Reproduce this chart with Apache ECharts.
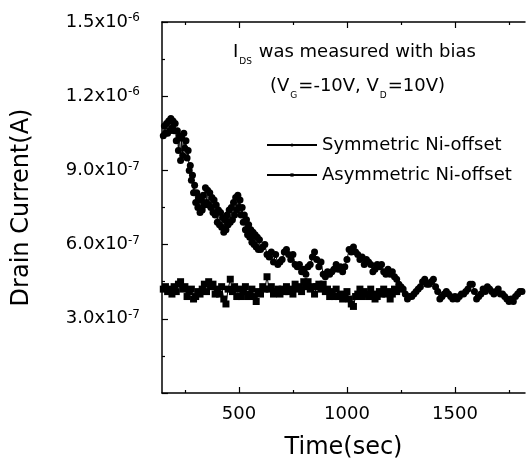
<!DOCTYPE html>
<html>
<head>
<meta charset="utf-8">
<script src="https://cdn.jsdelivr.net/npm/echarts@6/dist/echarts.min.js"></script>
<style>
  html, body { margin: 0; padding: 0; background: #fff; }
  #chart { width: 530px; height: 461px; }
</style>
</head>
<body>
<div id="chart"></div>
<script>
// drain current vs time, values in units of 1e-7 A
const symTime = [
  150, 155, 160, 165, 170, 175, 180, 185, 190, 195, 200, 205, 210, 215, 220, 225, 230, 235, 240, 245,
  250, 255, 260, 265, 270, 275, 280, 285, 290, 295, 300, 305, 310, 315, 320, 325, 330, 335, 340, 345,
  350, 355, 360, 365, 370, 375, 380, 385, 390, 395, 400, 405, 410, 415, 420, 425, 430, 435, 440, 445,
  450, 455, 460, 465, 470, 475, 480, 485, 490, 495, 500, 505, 510, 515, 520, 525, 530, 535, 540, 545,
  550, 555, 560, 565, 570, 575, 580, 585, 590, 595, 600, 610, 620, 630, 640, 650, 660, 670, 680, 690,
  700, 710, 720, 730, 740, 750, 760, 770, 780, 790, 800, 810, 820, 830, 840, 850, 860, 870, 880, 890,
  900, 910, 920, 930, 940, 950, 960, 970, 980, 990, 1000, 1010, 1020, 1030, 1040, 1050, 1060, 1070, 1080, 1090,
  1100, 1110, 1120, 1130, 1140, 1150, 1160, 1170, 1180, 1190, 1200, 1210, 1220, 1230, 1240, 1250, 1260, 1270, 1280, 1290,
  1300, 1310, 1320, 1330, 1340, 1350, 1360, 1370, 1380, 1390, 1400, 1410, 1420, 1430, 1440, 1450, 1460, 1470, 1480, 1490,
  1500, 1510, 1520, 1530, 1540, 1550, 1560, 1570, 1580, 1590, 1600, 1610, 1620, 1630, 1640, 1650, 1660, 1670, 1680, 1690,
  1700, 1710, 1720, 1730, 1740, 1750, 1760, 1770, 1780, 1790, 1800, 1810
];
const symCurrent = [
  10.4, 10.8, 10.5, 10.9, 10.5, 11.0, 10.6, 11.1, 10.7, 11.0, 10.6, 10.9, 10.2, 10.6, 9.8, 10.4, 9.4, 10.3, 9.6, 10.5,
  9.9, 10.2, 9.5, 9.8, 9.0, 9.2, 8.6, 8.8, 8.1, 8.4, 7.7, 8.1, 7.5, 7.9, 7.3, 7.8, 7.4, 8.0, 7.6, 8.3,
  7.7, 8.2, 7.6, 8.1, 7.5, 7.9, 7.3, 7.8, 7.2, 7.6, 6.9, 7.4, 6.8, 7.3, 6.7, 7.1, 6.5, 7.0, 6.6, 7.2,
  6.8, 7.4, 6.9, 7.5, 7.0, 7.7, 7.2, 7.9, 7.4, 8.0, 7.5, 7.8, 7.2, 7.5, 6.9, 7.2, 6.6, 7.0, 6.4, 6.8,
  6.3, 6.6, 6.1, 6.5, 6.0, 6.4, 5.9, 6.3, 5.8, 6.2, 5.8, 5.9, 6.0, 5.6, 5.5, 5.7, 5.3, 5.6, 5.2, 5.3,
  5.4, 5.7, 5.8, 5.6, 5.4, 5.6, 5.2, 5.1, 5.2, 4.9, 5.0, 4.8, 5.1, 5.2, 5.5, 5.7, 5.4, 5.1, 5.3, 4.8,
  4.7, 4.9, 4.8, 4.9, 5.0, 5.2, 5.0, 5.1, 4.9, 5.1, 5.4, 5.8, 5.7, 5.9, 5.7, 5.6, 5.4, 5.5, 5.2, 5.4,
  5.3, 5.2, 4.9, 5.0, 5.2, 5.1, 5.2, 4.9, 4.8, 5.0, 4.8, 4.9, 4.7, 4.6, 4.4, 4.3, 4.2, 4.0, 3.8, 3.9,
  3.9, 4.0, 4.1, 4.2, 4.3, 4.5, 4.6, 4.4, 4.4, 4.5, 4.6, 4.3, 4.1, 3.8, 3.9, 4.0, 4.1, 4.0, 3.9, 3.8,
  3.9, 3.8, 3.9, 4.0, 4.0, 4.1, 4.2, 4.4, 4.4, 4.1, 3.8, 3.9, 4.0, 4.2, 4.1, 4.3, 4.2, 4.1, 4.0, 4.1,
  4.2, 4.0, 4.0, 3.9, 3.8, 3.7, 3.8, 3.7, 3.9, 4.0, 4.1, 4.1
];
const asymTime = [
  150, 160, 170, 180, 190, 200, 210, 220, 230, 240, 250, 260, 270, 280, 290, 300, 310, 320, 330, 340,
  350, 360, 370, 380, 390, 400, 410, 420, 430, 440, 450, 460, 470, 480, 490, 500, 510, 520, 530, 540,
  550, 560, 570, 580, 590, 600, 610, 620, 630, 640, 650, 660, 670, 680, 690, 700, 710, 720, 730, 740,
  750, 760, 770, 780, 790, 800, 810, 820, 830, 840, 850, 860, 870, 880, 890, 900, 910, 920, 930, 940,
  950, 960, 970, 980, 990, 1000, 1010, 1020, 1030, 1040, 1050, 1060, 1070, 1080, 1090, 1100, 1110, 1120, 1130, 1140,
  1150, 1160, 1170, 1180, 1190, 1200, 1210, 1220, 1230, 1240
];
const asymCurrent = [
  4.2, 4.3, 4.1, 4.2, 4.0, 4.3, 4.1, 4.4, 4.5, 4.2, 4.3, 3.9, 4.1, 4.2, 3.8, 3.9, 4.1, 4.0, 4.2, 4.4,
  4.1, 4.5, 4.3, 4.4, 4.0, 4.2, 4.0, 4.3, 3.8, 3.6, 4.2, 4.6, 4.1, 4.3, 3.9, 4.2, 3.9, 4.1, 4.3, 3.9,
  4.0, 4.2, 3.9, 3.7, 4.1, 4.0, 4.3, 4.2, 4.7, 4.2, 4.3, 4.0, 4.1, 4.2, 4.0, 4.2, 4.1, 4.3, 4.1, 4.2,
  4.0, 4.4, 4.2, 4.3, 4.1, 4.5, 4.3, 4.5, 4.2, 4.3, 4.0, 4.3, 4.4, 4.2, 4.4, 4.1, 4.2, 3.9, 4.1, 3.9,
  4.2, 3.9, 4.0, 3.8, 3.9, 4.1, 3.8, 3.6, 3.5, 3.9, 4.0, 4.2, 3.9, 4.1, 4.0, 3.9, 4.2, 4.0, 3.8, 3.9,
  4.1, 4.0, 4.2, 4.0, 4.1, 3.8, 4.0, 4.2, 4.1, 4.2
];
const xMajorTicks = [500, 1000, 1500];
const xMinorTicks = [250, 750, 1250, 1750];
const seriesNames = ['Symmetric Ni-offset', 'Asymmetric Ni-offset'];

const font = 'DejaVu Sans';

function pairs(xs, ys) {
  return xs.map((x, i) => [x, ys[i]]);
}

function yLabel(v) {
  if (v === 0) {
    return '';
  }
  if (v >= 10) {
    return `{b|${(v / 10).toFixed(1)}x10}{s|-6}`;
  }
  return `{b|${v.toFixed(1)}x10}{s|-7}`;
}

function xAxisDef(position, ticks, len, showLine, showLabel) {
  return {
    type: 'value',
    position: position,
    min: 144,
    max: 1824,
    axisLine: {show: showLine, onZero: false, lineStyle: {color: '#000', width: 1.5}},
    axisTick: {show: true, inside: true, length: len, customValues: ticks, lineStyle: {color: '#000', width: 1.2}},
    axisLabel: {
      show: showLabel,
      customValues: xMajorTicks,
      formatter: v => String(v),
      margin: 12,
      color: '#000',
      fontFamily: font,
      fontSize: 18
    },
    splitLine: {show: false}
  };
}

const chart = echarts.init(document.getElementById('chart'));

const xMain = xAxisDef('bottom', xMajorTicks, 6, true, true);
xMain.name = 'Time(sec)';
xMain.nameLocation = 'middle';
xMain.nameGap = 43;
xMain.nameTextStyle = {color: '#000', fontFamily: font, fontSize: 24};

chart.setOption({
  backgroundColor: '#fff',
  animation: false,
  grid: {left: 162, right: 5, top: 22, bottom: 68, outerBoundsMode: 'none'},
  legend: {
    data: seriesNames,
    orient: 'vertical',
    left: 266,
    top: 136,
    padding: 0,
    itemWidth: 50,
    itemHeight: 4,
    itemGap: 12,
    textStyle: {color: '#000', fontFamily: font, fontSize: 18}
  },
  xAxis: [
    xMain,
    xAxisDef('bottom', xMinorTicks, 3, false, false),
    xAxisDef('top', xMajorTicks, 6, true, false),
    xAxisDef('top', xMinorTicks, 3, false, false)
  ],
  yAxis: {
    type: 'value',
    min: 0,
    max: 15,
    interval: 3,
    name: 'Drain Current(A)',
    nameLocation: 'middle',
    nameGap: 128,
    nameTextStyle: {color: '#000', fontFamily: font, fontSize: 24},
    axisLine: {show: true, lineStyle: {color: '#000', width: 1.5}},
    axisTick: {show: true, inside: true, length: 6, lineStyle: {color: '#000', width: 1.2}},
    minorTick: {show: true, splitNumber: 2, length: 3, lineStyle: {color: '#000', width: 1.2}},
    splitLine: {show: false},
    axisLabel: {
      margin: 22,
      formatter: yLabel,
      rich: {
        b: {color: '#000', fontFamily: font, fontSize: 18, lineHeight: 18},
        s: {color: '#000', fontFamily: font, fontSize: 12, lineHeight: 12, padding: [0, 0, 8, 0]}
      }
    }
  },
  graphic: [
    {
      type: 'text',
      left: 233,
      top: 39,
      style: {
        text: '{a|I}{d|DS}{a| was measured with bias}',
        rich: {
          a: {fill: '#000', fontFamily: font, fontSize: 18, lineHeight: 18},
          d: {fill: '#000', fontFamily: font, fontSize: 9, lineHeight: 9, padding: [18, 1, 0, 1]}
        }
      }
    },
    {
      type: 'text',
      left: 270,
      top: 73,
      style: {
        text: '{a|(V}{d|G}{a|=-10V, V}{d|D}{a|=10V)}',
        rich: {
          a: {fill: '#000', fontFamily: font, fontSize: 18, lineHeight: 18},
          d: {fill: '#000', fontFamily: font, fontSize: 9, lineHeight: 9, padding: [18, 1, 0, 1]}
        }
      }
    }
  ],
  series: [
    {
      name: seriesNames[0],
      type: 'line',
      data: pairs(symTime, symCurrent),
      symbol: 'circle',
      symbolSize: 7,
      showAllSymbol: true,
      itemStyle: {color: '#000'},
      lineStyle: {color: '#000', width: 1}
    },
    {
      name: seriesNames[1],
      type: 'line',
      data: pairs(asymTime, asymCurrent),
      symbol: 'rect',
      symbolSize: 7,
      showAllSymbol: true,
      itemStyle: {color: '#000'},
      lineStyle: {color: '#000', width: 1}
    }
  ]
});
</script>
</body>
</html>
